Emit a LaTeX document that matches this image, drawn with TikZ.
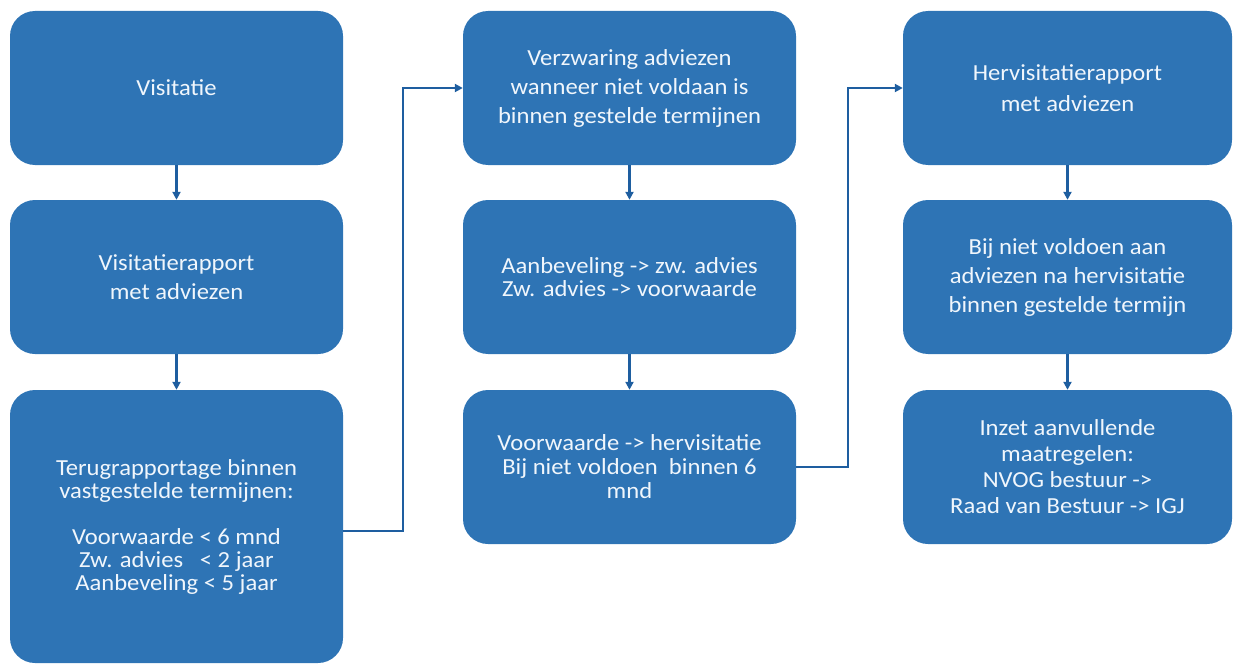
\documentclass[tikz,border=0pt]{standalone}
\usepackage{fontspec}
\setmainfont{Carlito}[FakeStretch=1.07]
\usepackage{tikz}
\usetikzlibrary{arrows.meta}
\definecolor{boxblue}{RGB}{46,116,181}
\definecolor{linkblue}{RGB}{30,94,160}
\definecolor{boxtext}{RGB}{240,246,252}
\tikzset{
  stap/.style={rounded corners=25pt, fill=boxblue, draw=none, text=boxtext,
    align=center, inner sep=0pt, minimum height=154pt,
    font=\fontsize{23}{29}\selectfont},
  krap/.style={font=\fontsize{23}{23}\selectfont},
  link/.style={linkblue, line width=2.4pt, -{Triangle[length=8pt,width=8pt]}}
}

\begin{document}
\begin{tikzpicture}[x=1pt,y=-1pt]
    \useasboundingbox (0,0) rectangle (1234,666);
    %
    \node[stap, minimum width=333pt] (b11) at (176.5,88) {Visitatie};
    \node[stap, minimum width=333pt] (b12) at (176.5,277) {Visitatierapport\\met adviezen};
    \node[stap, krap, minimum width=333pt, minimum height=273pt] (b13) at (176.5,526.5)
      {Terugrapportage binnen\\vastgestelde termijnen:\\[23pt]Voorwaarde < 6 mnd\\Zw. advies\ \ \ < 2 jaar\\Aanbeveling < 5 jaar};
    %
    \node[stap, minimum width=333pt] (b21) at (629.5,88) {Verzwaring adviezen\\wanneer niet voldaan is\\binnen gestelde termijnen};
    \node[stap, krap, minimum width=333pt] (b22) at (629.5,277) {Aanbeveling -> zw. advies\\Zw. advies -> voorwaarde};
    \node[stap, font=\fontsize{23}{24}\selectfont, minimum width=333pt] (b23) at (629.5,467) {Voorwaarde -> hervisitatie\\Bij niet voldoen\ \ binnen 6\\mnd};
    %
    \node[stap, font=\fontsize{23}{31}\selectfont, minimum width=329pt] (b31) at (1067.5,88) {Hervisitatierapport\\met adviezen};
    \node[stap, minimum width=329pt] (b32) at (1067.5,277) {Bij niet voldoen aan\\adviezen na hervisitatie\\binnen gestelde termijn};
    \node[stap, font=\fontsize{23}{26}\selectfont, minimum width=329pt] (b33) at (1067.5,467) {Inzet aanvullende\\maatregelen:\\NVOG bestuur ->\\Raad van Bestuur -> IGJ};
    %
    \draw[link] (b11) -- (b12);
    \draw[link] (b12) -- (b13);
    \draw[link] (b21) -- (b22);
    \draw[link] (b22) -- (b23);
    \draw[link] (b31) -- (b32);
    \draw[link] (b32) -- (b33);
    %
    \coordinate (k1) at (403,531);
    \coordinate (k2) at (848,467);
    \draw[link] (k1 -| b13.east) -- (k1) |- (b21.west);
    \draw[link] (b23.east) -- (k2) |- (b31.west);
\end{tikzpicture}
\end{document}
